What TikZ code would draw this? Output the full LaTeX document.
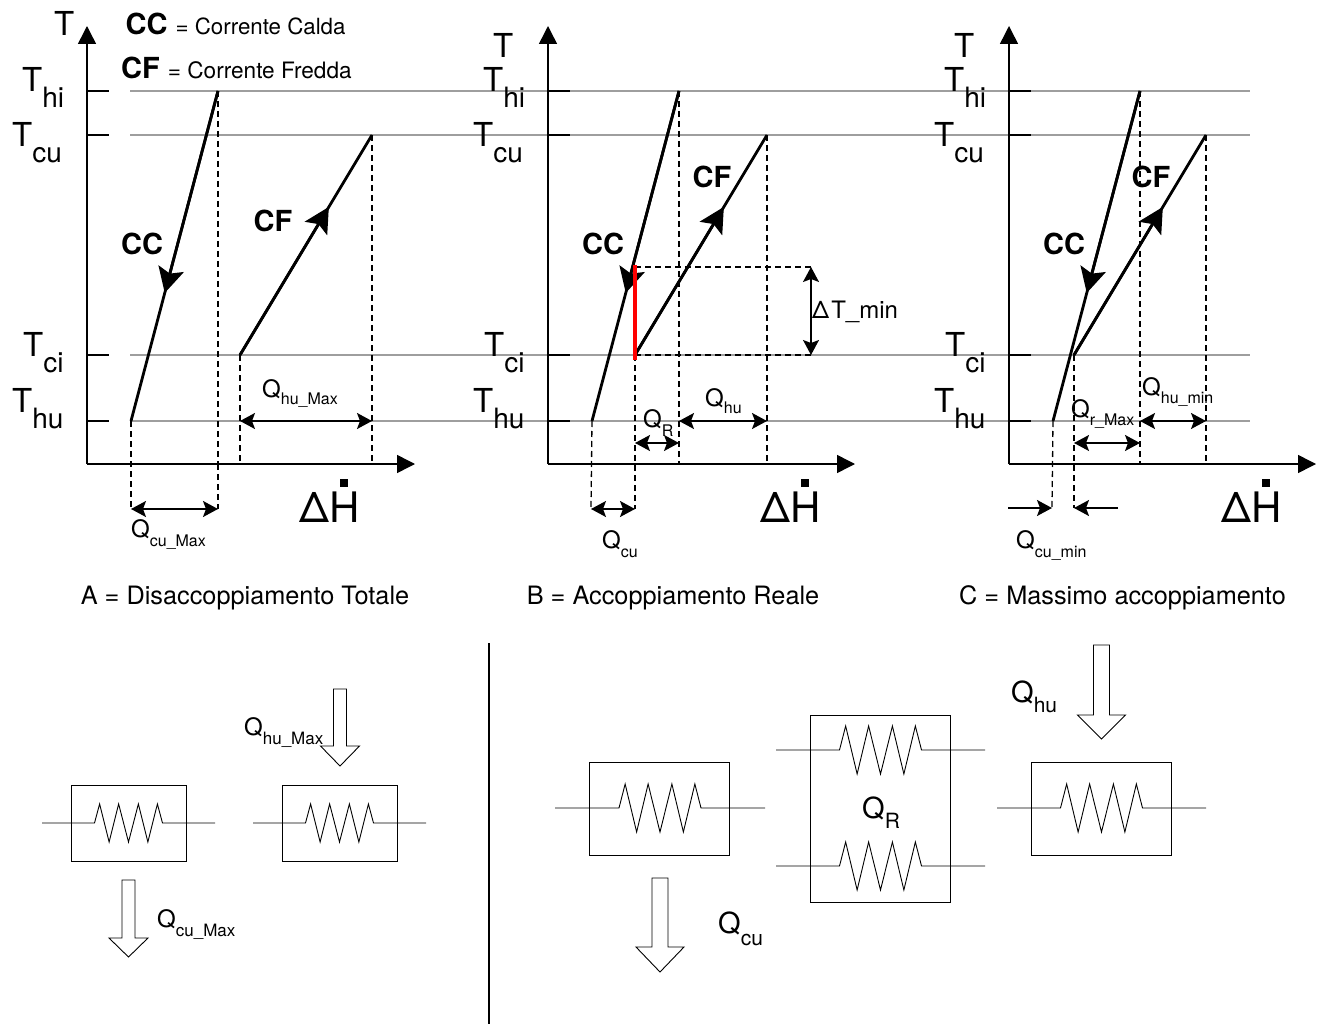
\documentclass[tikz,border=0pt]{standalone}
\usepackage{fontspec}
\setmainfont{TeX Gyre Heros}
\usetikzlibrary{arrows.meta,calc}

% subscript: drop, size, text
\newcommand{\pedice}[3]{\raisebox{-#1pt}{\fontsize{#2}{#2}\selectfont #3}}
% exchanger coil: name, centre x, y, half lead, half width, amplitude
\newcommand{\serpentina}[6]{
    \coordinate (#1-in) at (#2-#4,#3);
    \coordinate (#1-out) at (#2+#4,#3);
    \draw[sottile] (#1-in) -- (#2-#5,#3) -- (#2-.85*#5,#3-#6) -- (#2-.57*#5,#3+#6) -- (#2-.29*#5,#3-#6) -- (#2,#3+#6)
        -- (#2+.29*#5,#3-#6) -- (#2+.57*#5,#3+#6) -- (#2+.85*#5,#3-#6) -- (#2+#5,#3) -- (#1-out);
}
% hollow arrow: x, top, head base, half shaft, half head, tip
\newcommand{\frecciona}[6]{
    \draw[sottile,fill=white] (#1-#4,#2) -- (#1+#4,#2) -- (#1+#4,#3) -- (#1+#5,#3) -- (#1,#6) -- (#1-#5,#3) -- (#1-#4,#3) -- cycle;
}

\begin{document}
\begin{tikzpicture}[x=1pt,y=-1pt]
        \tikzstyle{every node}=[inner sep=0]
        \tikzstyle{grigia}=[draw=black!38,line width=1.5pt]
        \tikzstyle{asse}=[line width=1.5pt,-{Stealth[length=18pt,width=18pt,inset=0pt]}]
        \tikzstyle{tacca}=[line width=1.5pt]
        \tikzstyle{tratto}=[line width=1.3pt,dash pattern=on 6pt off 4pt]
        \tikzstyle{corrente}=[line width=2.8pt]
        \tikzstyle{punta}=[corrente,-{Stealth[length=25pt,width=26pt,inset=5pt]}]
        \tikzstyle{quota}=[line width=1.5pt,{Stealth[length=15pt,width=16pt,inset=3pt]}-{Stealth[length=15pt,width=16pt,inset=3pt]}]
        \tikzstyle{freccia}=[line width=1.5pt,-{Stealth[length=15pt,width=16pt,inset=3pt]}]
        \tikzstyle{sottile}=[line width=0.9pt]
        \tikzstyle{scatola}=[draw,line width=0.9pt,minimum width=115pt,minimum height=76pt]
        \tikzstyle{scatolona}=[draw,line width=0.9pt,minimum width=140pt,minimum height=93pt]
        \tikzstyle{temp}=[anchor=base west,font=\fontsize{33}{33}\selectfont]
        \tikzstyle{sigla}=[font=\fontsize{29}{29}\selectfont\bfseries]
        \tikzstyle{calore}=[anchor=base west,font=\fontsize{24}{24}\selectfont]
        \tikzstyle{calorone}=[anchor=base west,font=\fontsize{29}{29}\selectfont]
        \tikzstyle{titolo}=[anchor=base,font=\fontsize{25.3}{26}\selectfont]
        \useasboundingbox (0,0) rectangle (1325,1024);

        % grey levels
        \coordinate (hi-l) at (130,91);
        \coordinate (hi-r) at (1250,91);
        \coordinate (cu-l) at (130,135);
        \coordinate (cu-r) at (1250,135);
        \coordinate (ci-l) at (130,355);
        \coordinate (ci-r) at (1250,355);
        \coordinate (hu-l) at (130,421);
        \coordinate (hu-r) at (1250,421);
        \draw[grigia] (hi-l) -- (hi-r);
        \draw[grigia] (cu-l) -- (cu-r);
        \draw[grigia] (ci-l) -- (ci-r);
        \draw[grigia] (hu-l) -- (hu-r);

        % the three charts
        \foreach \p/\dx/\cfx/\xend in {a/0/0/415,b/461/-66/855,c/922/-88/1316} {
            \coordinate (\p-o) at (87+\dx,464);
            \coordinate (\p-y) at (87+\dx,26);
            \coordinate (\p-x) at (\xend,464);
            \draw[asse] (\p-o) -- (\p-y);
            \draw[asse] (\p-o) -- (\p-x);

            % ticks
            \foreach \q/\yy in {hi/91,cu/135,ci/355,hu/421} {
                \coordinate (\p-\q-a) at (87+\dx,\yy);
                \coordinate (\p-\q-b) at (109+\dx,\yy);
                \draw[tacca] (\p-\q-a) -- (\p-\q-b);
            }
            \node[temp] (\p-thi) at (22+\dx,92) {T\pedice{16}{28}{hi}};
            \node[temp] (\p-tcu) at (12+\dx,147) {T\pedice{16}{28}{cu}};
            \node[temp] (\p-tci) at (23+\dx,356) {T\pedice{16}{28}{ci}};
            \node[temp] (\p-thu) at (12+\dx,412) {T\pedice{16}{28}{hu}};

            % hot stream
            \coordinate (\p-cc1) at (218+\dx,91);
            \coordinate (\p-cc2) at (131+\dx,421);
            \coordinate (\p-ccm) at ($(\p-cc1)!.612!(\p-cc2)$);
            \draw[corrente] (\p-cc1) -- (\p-cc2);
            \draw[punta] (\p-cc1) -- (\p-ccm);
            \node[sigla] (\p-cc) at (142+\dx,244) {CC};

            % cold stream
            \coordinate (\p-cf1) at (240+\dx+\cfx,355);
            \coordinate (\p-cf2) at (372+\dx+\cfx,135);
            \coordinate (\p-cfm) at ($(\p-cf1)!.673!(\p-cf2)$);
            \draw[corrente] (\p-cf1) -- (\p-cf2);
            \draw[punta] (\p-cf1) -- (\p-cfm);

            % dashed drops
            \coordinate (\p-d1) at (218+\dx,464);
            \coordinate (\p-d2) at (372+\dx+\cfx,464);
            \draw[tratto] (\p-cc1) -- (\p-d1);
            \draw[tratto] (\p-cf2) -- (\p-d2);

            % delta H
            \node[anchor=base west,font=\fontsize{42}{42}\selectfont] (\p-dh) at (299.5+\dx,522) {ΔH};
            \node[fill=black,minimum size=7.5pt] (\p-pt) at (344+\dx,483) {};
        }
        \node[anchor=base west,font=\fontsize{33}{33}\selectfont] (a-t) at (54,36) {T};
        \node[anchor=base west,font=\fontsize{33}{33}\selectfont] (b-t) at (493,58) {T};
        \node[anchor=base west,font=\fontsize{33}{33}\selectfont] (c-t) at (954,58) {T};
        \node[sigla] (a-cf) at (273,221) {CF};
        \node[sigla] (b-cf) at (712,177) {CF};
        \node[sigla] (c-cf) at (1151,177) {CF};

        % legend
        \node[anchor=base west,font=\fontsize{22.3}{24}\selectfont] (leg-cc) at (125.5,35) {\fontsize{29}{29}\selectfont\bfseries CC \fontsize{22.3}{24}\selectfont\mdseries = Corrente Calda};
        \node[anchor=base west,font=\fontsize{22.3}{24}\selectfont] (leg-cf) at (121,79) {\fontsize{29}{29}\selectfont\bfseries CF \fontsize{22.6}{24}\selectfont\mdseries = Corrente Fredda};

        % chart A
        \coordinate (a-e1) at (131,509);
        \coordinate (a-e2) at (218,509);
        \coordinate (a-e3) at (240,464);
        \coordinate (a-q1) at (240,421);
        \coordinate (a-q2) at (372,421);
        \draw[tratto] (a-cc2) -- (a-e1);
        \draw[tratto] (a-d1) -- (a-e2);
        \draw[tratto] (a-cf1) -- (a-e3);
        \draw[quota] (a-e1) -- (a-e2);
        \draw[quota] (a-q1) -- (a-q2);
        \node[calore] (a-qhu) at (262,397) {Q\pedice{7}{16}{hu\_Max}};
        \node[calore] (a-qcu) at (131,537) {Q\pedice{9}{16}{cu\_Max}};
        \node[titolo] (a-tit) at (245,604.5) {A = Disaccoppiamento Totale};

        % chart B
        \coordinate (b-e1) at (591,509);
        \coordinate (b-e2) at (635,509);
        \coordinate (b-r1) at (635,265);
        \coordinate (b-r2) at (635,360);
        \coordinate (b-m0) at (635,267);
        \coordinate (b-m1) at (811,267);
        \coordinate (b-m2) at (811,355);
        \coordinate (b-q1) at (635,443);
        \coordinate (b-q2) at (679,443);
        \coordinate (b-q3) at (679,421);
        \coordinate (b-q4) at (767,421);
        \draw[tratto] (b-cc2) -- (b-e1);
        \draw[tratto] (b-cf1) -- (b-e2);
        \draw[tratto] (b-m0) -- (b-m1);
        \draw[tratto] (b-cf1) -- (b-m2);
        \draw[quota] (b-m1) -- (b-m2);
        \draw[quota] (b-e1) -- (b-e2);
        \draw[quota] (b-q1) -- (b-q2);
        \draw[quota] (b-q3) -- (b-q4);
        \draw[red,line width=3.5pt] (b-r1) -- (b-r2);
        \node[calore] (b-dt) at (812,318) {{\fontsize{24}{24}\selectfont Δ}\hspace{2pt}T\_min};
        \node[calore] (b-qhu) at (705,406) {Q\pedice{7}{16}{hu}};
        \node[calore] (b-qr) at (643,427) {Q\pedice{9}{16}{R}};
        \node[calore] (b-qcu) at (602,548) {Q\pedice{9}{16}{cu}};
        \node[titolo] (b-tit) at (673,604.5) {B = Accoppiamento Reale};

        % chart C
        \coordinate (c-e1) at (1052,508);
        \coordinate (c-e2) at (1074,508);
        \coordinate (c-f1) at (1008,508);
        \coordinate (c-f2) at (1118,508);
        \coordinate (c-q1) at (1074,443);
        \coordinate (c-q2) at (1140,443);
        \coordinate (c-q3) at (1140,421);
        \coordinate (c-q4) at (1206,421);
        \draw[tratto] (c-cc2) -- (c-e1);
        \draw[tratto] (c-cf1) -- (c-e2);
        \draw[freccia] (c-f1) -- (c-e1);
        \draw[freccia] (c-f2) -- (c-e2);
        \draw[quota] (c-q1) -- (c-q2);
        \draw[quota] (c-q3) -- (c-q4);
        \node[calore] (c-qhu) at (1142,395) {Q\pedice{8}{16}{hu\_min}};
        \node[calore] (c-qr) at (1071,417) {Q\pedice{8}{16}{r\_Max}};
        \node[calore] (c-qcu) at (1016,548) {Q\pedice{9}{16}{cu\_min}};
        \node[titolo] (c-tit) at (1122.5,604.5) {C = Massimo accoppiamento};

        % separator
        \coordinate (sep1) at (489,643);
        \coordinate (sep2) at (489,1024);
        \draw[line width=2pt] (sep1) -- (sep2);

        % total decoupling
        \node[scatola] (ex-cu) at (128.5,823) {};
        \serpentina{s-cu}{128.5}{823}{86.5}{34}{19}
        \node[scatola] (ex-hu) at (339.5,823) {};
        \serpentina{s-hu}{339.5}{823}{86.5}{34}{19}
        \frecciona{340}{689}{746}{6.5}{19.5}{766}
        \frecciona{128.5}{880}{938}{6.5}{19.5}{957}
        \node[calore] (l-qhu) at (244,735) {Q\pedice{9}{17}{hu\_Max}};
        \node[calore] (l-qcu) at (157,927) {Q\pedice{9}{17}{cu\_Max}};

        % real coupling
        \node[scatolona] (rx-cu) at (659.5,808.5) {};
        \serpentina{r-cu}{660}{808}{105}{41}{24}
        \node[draw,line width=0.9pt,minimum width=140pt,minimum height=187pt] (rx-r) at (880.5,808.5) {};
        \serpentina{r-r1}{880.5}{750}{104.5}{41}{24}
        \serpentina{r-r2}{880.5}{866}{104.5}{41}{24}
        \node[scatolona] (rx-hu) at (1101.5,808.5) {};
        \serpentina{r-hu}{1101.5}{808}{104.5}{41}{24}
        \frecciona{1101.5}{645}{715}{8}{24}{739}
        \frecciona{660}{878}{947}{8}{24}{972}
        \node[calorone] (r-qhu) at (1011,702) {Q\pedice{10}{21}{hu}};
        \node[calorone] (r-qcu) at (718,933) {Q\pedice{12}{21}{cu}};
        \node[calorone] (r-qr) at (862,818) {Q\pedice{10}{21}{R}};

    \end{tikzpicture}
\end{document}
